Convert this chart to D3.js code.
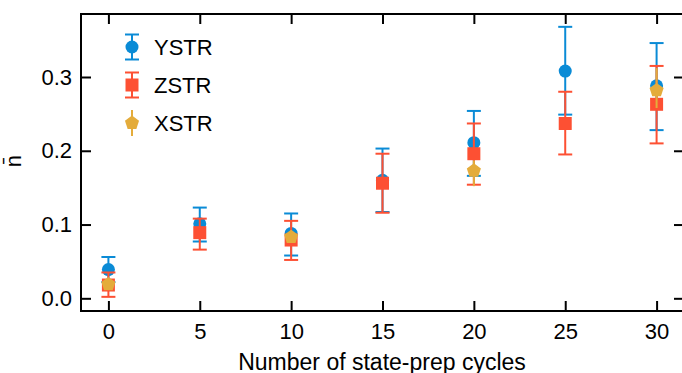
<!DOCTYPE html>
<html>
<head>
<meta charset="utf-8">
<script src="https://cdn.jsdelivr.net/npm/d3@7"></script>
<style>
  body { margin: 0; background: #fff; }
  text { font-family: "Liberation Sans", Arial, sans-serif; }
</style>
</head>
<body>
<div id="chart"></div>
<script>
// values
const cycles = [0, 5, 10, 15, 20, 25, 30];
const xTicks = [0, 5, 10, 15, 20, 25, 30];
const yTicks = [0.0, 0.1, 0.2, 0.3];

const ystrMean = [0.039, 0.101, 0.088, 0.160, 0.211, 0.308, 0.288];
const ystrLow  = [0.022, 0.077, 0.058, 0.117, 0.166, 0.249, 0.228];
const ystrHigh = [0.056, 0.123, 0.115, 0.203, 0.254, 0.368, 0.346];

const zstrMean = [0.018, 0.089, 0.079, 0.156, 0.196, 0.237, 0.263];
const zstrLow  = [0.002, 0.066, 0.052, 0.116, 0.154, 0.195, 0.210];
const zstrHigh = [0.035, 0.108, 0.105, 0.196, 0.237, 0.280, 0.315];

const xstrCycles = [0, 10, 20, 30];
const xstrMean = [0.019, 0.083, 0.173, 0.282];
const xstrLow  = [0.012, 0.076, 0.152, 0.258];
const xstrHigh = [0.026, 0.090, 0.187, 0.312];

const width = 682, height = 373;
const plot = { left: 81, right: 684, top: 14, bottom: 311 };

const x = d3.scaleLinear().domain([-1.5, 31.5]).range([plot.left, plot.right]);
const y = d3.scaleLinear().domain([-0.0172, 0.3854]).range([plot.bottom, plot.top]);

// pentagon, pointing up
const pentagon = {
  draw(context, size) {
    const r = Math.sqrt(size / 2.378);
    for (let i = 0; i < 5; i++) {
      const a = -Math.PI / 2 + i * 2 * Math.PI / 5;
      if (i === 0) context.moveTo(r * Math.cos(a), r * Math.sin(a));
      else context.lineTo(r * Math.cos(a), r * Math.sin(a));
    }
    context.closePath();
  }
};

const series = [
  { name: "YSTR", color: "#0a8bd6", shape: d3.symbolCircle, size: 133, cap: 7,
    xs: cycles, mean: ystrMean, low: ystrLow, high: ystrHigh },
  { name: "ZSTR", color: "#fd5033", shape: d3.symbolSquare, size: 169, cap: 7,
    xs: cycles, mean: zstrMean, low: zstrLow, high: zstrHigh },
  { name: "XSTR", color: "#e4ac3b", shape: pentagon, size: 130, cap: 0,
    xs: xstrCycles, mean: xstrMean, low: xstrLow, high: xstrHigh }
];

const svg = d3.select("#chart")
  .append("svg")
  .attr("width", width)
  .attr("height", height);

// axes, ticks pointing inward on all four sides
const tickStyle = (g) => {
  g.select(".domain").remove();
  g.selectAll(".tick line").attr("stroke", "#000").attr("stroke-width", 2);
  g.selectAll(".tick text").attr("fill", "#000").style("font-size", "22px");
};

svg.append("g")
  .attr("transform", `translate(0,${plot.bottom})`)
  .call(d3.axisBottom(x).tickValues(xTicks).tickSizeInner(-10).tickSizeOuter(0).tickPadding(12))
  .call(tickStyle);

svg.append("g")
  .attr("transform", `translate(0,${plot.top})`)
  .call(d3.axisTop(x).tickValues(xTicks).tickSizeInner(-10).tickSizeOuter(0).tickFormat(""))
  .call(tickStyle);

svg.append("g")
  .attr("transform", `translate(${plot.left},0)`)
  .call(d3.axisLeft(y).tickValues(yTicks).tickSizeInner(-10).tickSizeOuter(0).tickPadding(9)
    .tickFormat(d3.format(".1f")))
  .call(tickStyle);

svg.append("g")
  .attr("transform", `translate(${plot.right},0)`)
  .call(d3.axisRight(y).tickValues(yTicks).tickSizeInner(-10).tickSizeOuter(0).tickFormat(""))
  .call(tickStyle);

svg.append("rect")
  .attr("x", plot.left)
  .attr("y", plot.top)
  .attr("width", plot.right - plot.left)
  .attr("height", plot.bottom - plot.top)
  .attr("fill", "none")
  .attr("stroke", "#000")
  .attr("stroke-width", 2);

// error bars and markers
series.forEach((s) => {
  const pts = s.xs.map((c, i) => ({ c: c, m: s.mean[i], lo: s.low[i], hi: s.high[i] }));
  const g = svg.append("g");

  g.selectAll("line.bar").data(pts).enter()
    .append("line")
    .attr("x1", (d) => x(d.c)).attr("x2", (d) => x(d.c))
    .attr("y1", (d) => y(d.lo)).attr("y2", (d) => y(d.hi))
    .attr("stroke", s.color).attr("stroke-width", 2);

  if (s.cap > 0) {
    ["lo", "hi"].forEach((k) => {
      g.selectAll("line.cap-" + k).data(pts).enter()
        .append("line")
        .attr("x1", (d) => x(d.c) - s.cap).attr("x2", (d) => x(d.c) + s.cap)
        .attr("y1", (d) => y(d[k])).attr("y2", (d) => y(d[k]))
        .attr("stroke", s.color).attr("stroke-width", 2);
    });
  }

  g.selectAll("path").data(pts).enter()
    .append("path")
    .attr("d", d3.symbol().type(s.shape).size(s.size))
    .attr("transform", (d) => `translate(${x(d.c)},${y(d.m)})`)
    .attr("fill", s.color);
});

// legend
const legend = svg.append("g");
series.forEach((s, i) => {
  const cy = 47 + i * 38, cx = 132;
  legend.append("line")
    .attr("x1", cx).attr("x2", cx).attr("y1", cy - 13).attr("y2", cy + 13)
    .attr("stroke", s.color).attr("stroke-width", 2);
  if (s.cap > 0) {
    [-12.5, 12.5].forEach((dy) => {
      legend.append("line")
        .attr("x1", cx - s.cap).attr("x2", cx + s.cap)
        .attr("y1", cy + dy).attr("y2", cy + dy)
        .attr("stroke", s.color).attr("stroke-width", 2);
    });
  }
  legend.append("path")
    .attr("d", d3.symbol().type(s.shape).size(s.size))
    .attr("transform", `translate(${cx},${cy})`)
    .attr("fill", s.color);
  legend.append("text")
    .attr("x", 154)
    .attr("y", cy)
    .attr("dy", "0.36em")
    .style("font-size", "22px")
    .text(s.name);
});

// axis labels
svg.append("text")
  .attr("x", 382)
  .attr("y", 370)
  .attr("text-anchor", "middle")
  .style("font-size", "23px")
  .text("Number of state-prep cycles");

svg.append("text")
  .attr("transform", "translate(21,161) rotate(-90)")
  .attr("text-anchor", "middle")
  .style("font-size", "22px")
  .text("n\u0304");
</script>
</body>
</html>
